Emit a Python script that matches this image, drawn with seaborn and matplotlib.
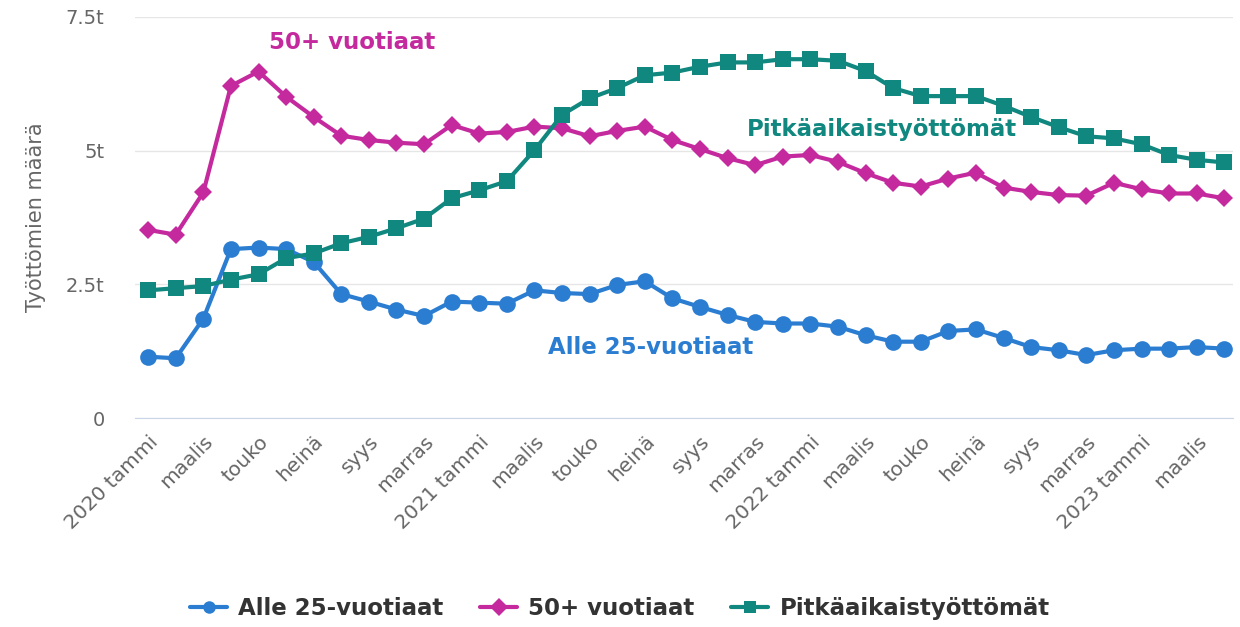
import pandas as pd
import seaborn as sns
import matplotlib.pyplot as plt

# Monthly values, 2020 tammi .. 2023 huhti (thousands)
months = ['tammi', 'helmi', 'maalis', 'huhti', 'touko', 'kesä', 'heinä', 'elo',
          'syys', 'loka', 'marras', 'joulu']
periods = []
for year in [2020, 2021, 2022, 2023]:
    for i, m in enumerate(months):
        periods.append(f'{year} {m}' if i == 0 else m)
periods = periods[:40]

alle25 = [1.15, 1.12, 1.86, 3.16, 3.19, 3.16, 2.92, 2.32, 2.18, 2.03, 1.91, 2.18,
          2.16, 2.14, 2.39, 2.34, 2.32, 2.49, 2.56, 2.24, 2.08, 1.93, 1.80, 1.77,
          1.77, 1.71, 1.55, 1.43, 1.43, 1.63, 1.66, 1.50, 1.33, 1.27, 1.18, 1.27,
          1.30, 1.30, 1.33, 1.30]
yli50 = [3.52, 3.43, 4.22, 6.21, 6.48, 6.01, 5.63, 5.28, 5.20, 5.15, 5.12, 5.48,
         5.32, 5.35, 5.45, 5.42, 5.27, 5.37, 5.45, 5.20, 5.03, 4.86, 4.73, 4.89,
         4.92, 4.79, 4.58, 4.40, 4.33, 4.48, 4.59, 4.31, 4.23, 4.17, 4.16, 4.40,
         4.28, 4.20, 4.20, 4.11]
pitka = [2.39, 2.43, 2.47, 2.59, 2.69, 2.99, 3.08, 3.27, 3.39, 3.55, 3.73, 4.11,
         4.26, 4.43, 5.01, 5.67, 5.98, 6.17, 6.41, 6.46, 6.57, 6.65, 6.65, 6.71,
         6.71, 6.68, 6.49, 6.17, 6.02, 6.02, 6.02, 5.84, 5.63, 5.44, 5.27, 5.23,
         5.12, 4.92, 4.83, 4.78]

series_names = ['Alle 25-vuotiaat', '50+ vuotiaat', 'Pitkäaikaistyöttömät']
colors = ['#2a7dd1', '#c42a9e', '#10877f']

df = pd.DataFrame({'idx': list(range(40)) * 3,
                   'value': alle25 + yli50 + pitka,
                   'series': [s for s in series_names for _ in range(40)]})

sns.set_style('white')
plt.rcParams['font.family'] = ['DejaVu Sans']

fig = plt.figure(figsize=(12.4, 6.27), dpi=100)
ax = fig.add_axes([0.109, 0.333, 0.885, 0.640])

sns.lineplot(data=df, x='idx', y='value', hue='series', style='series',
             palette=dict(zip(series_names, colors)),
             markers={'Alle 25-vuotiaat': 'o', '50+ vuotiaat': 'D',
                      'Pitkäaikaistyöttömät': 's'},
             dashes=False, linewidth=3, markersize=12, markeredgewidth=0,
             ax=ax, legend=True)
# diamonds a bit smaller
for line in ax.lines:
    if line.get_marker() == 'D':
        line.set_markersize(9)

ax.set_xlim(-0.47, 39.3)
ax.set_ylim(0, 7.5)
ax.set_yticks([0, 2.5, 5, 7.5])
ax.set_yticklabels(['0', '2.5t', '5t', '7.5t'], color='#666666', fontsize=14)
ax.set_xticks(range(0, 40, 2))
ax.set_xticklabels(periods[0:40:2], rotation=45, ha='right',
                   rotation_mode='anchor', color='#666666', fontsize=14.5)
ax.tick_params(axis='x', length=0, pad=10)
ax.tick_params(axis='y', length=0, pad=22)
ax.set_xlabel('')
ax.set_ylabel('Työttömien määrä', color='#666666', fontsize=15, labelpad=14)
ax.grid(axis='y', color='#e6e6e6', linewidth=1)
for s in ['top', 'right', 'left']:
    ax.spines[s].set_visible(False)
ax.spines['bottom'].set_color('#ccd6eb')

ax.text(7.39, 7.03, '50+ vuotiaat', color=colors[1], fontsize=16.5,
        fontweight='bold', ha='center', va='center')
ax.text(26.6, 5.40, 'Pitkäaikaistyöttömät', color=colors[2], fontsize=16.5,
        fontweight='bold', ha='center', va='center')
ax.text(18.2, 1.33, 'Alle 25-vuotiaat', color=colors[0], fontsize=16.5,
        fontweight='bold', ha='center', va='center')

handles, labels = ax.get_legend_handles_labels()
ax.get_legend().remove()
for h in handles:
    h.set_markersize(9)
fig.legend(handles, labels, loc='center', bbox_to_anchor=(0.5, 0.03),
           ncol=3, frameon=False, handlelength=1.6, columnspacing=1.6,
           handletextpad=0.5,
           prop={'size': 16.5, 'weight': 'bold'}, labelcolor='#333333')

fig.savefig('out.png', dpi=100)
